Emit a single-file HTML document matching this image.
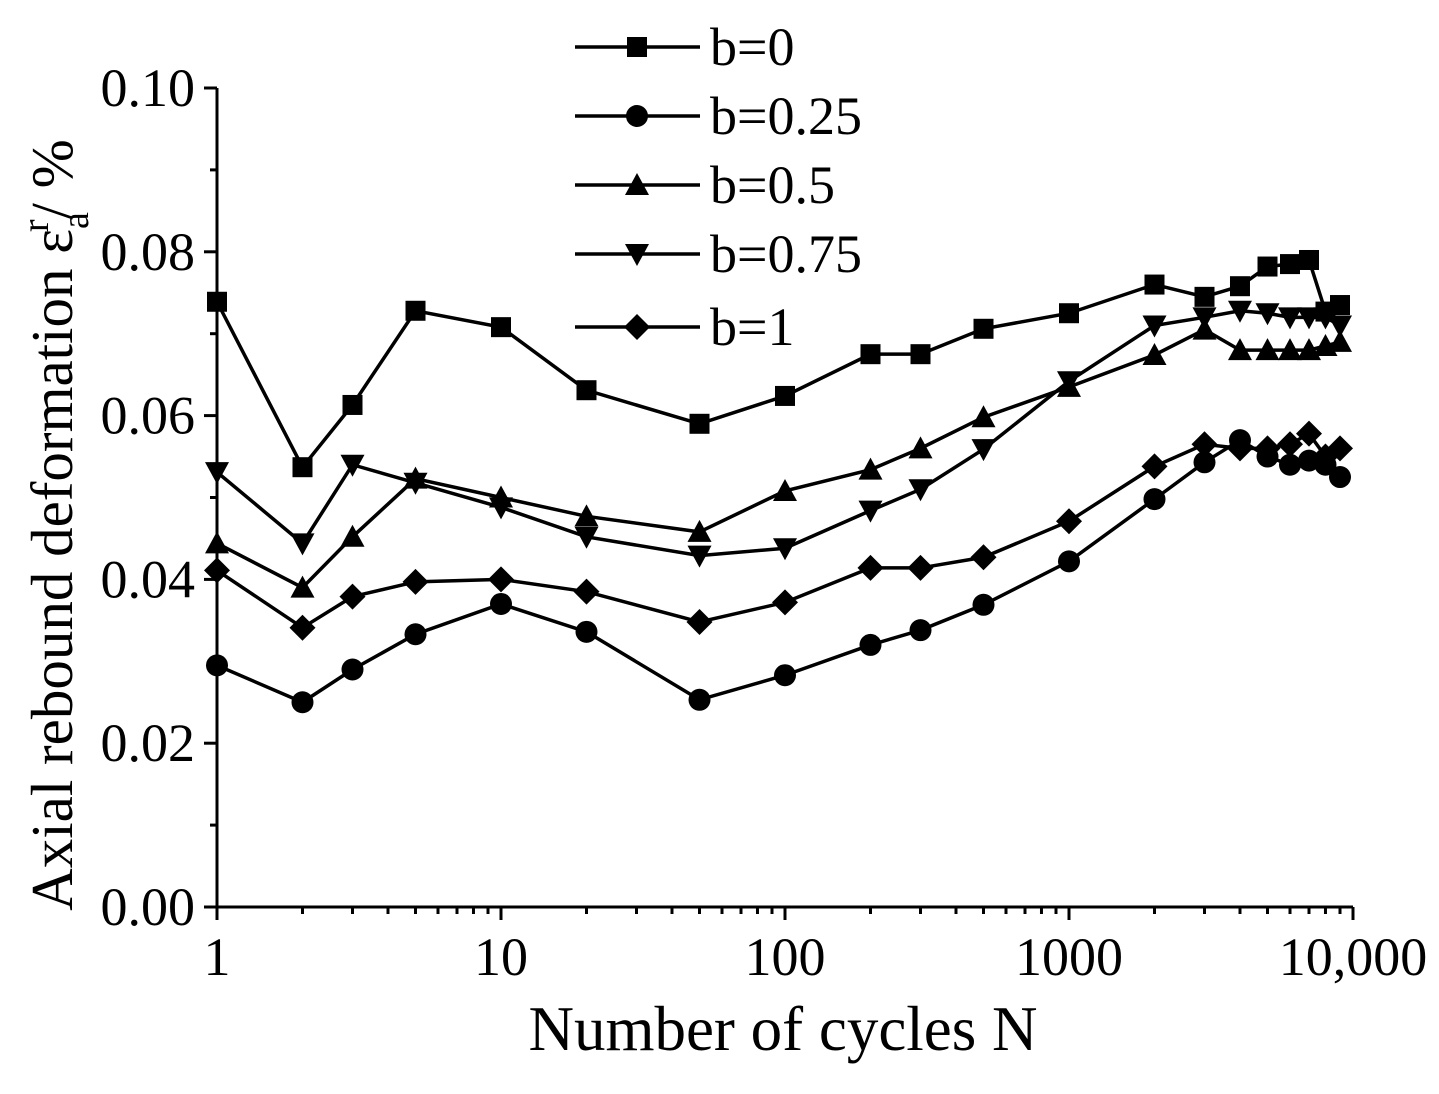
<!DOCTYPE html>
<html><head><meta charset="utf-8"><style>
body{margin:0;background:#fff}
svg text{font-family:"Liberation Serif",serif;fill:#000}
</style></head><body>
<svg id="c" width="1439" height="1089" viewBox="0 0 1439 1089" xmlns="http://www.w3.org/2000/svg"></svg>
<script>
const cycles=[1,2,3,5,10,20,50,100,200,300,500,1000,2000,3000,4000,5000,6000,7000,8000,9000];
const b0=[0.0739,0.0537,0.0613,0.0728,0.0708,0.0631,0.059,0.0624,0.0675,0.0675,0.0706,0.0725,0.076,0.0745,0.0758,0.0782,0.0785,0.079,0.0727,0.0735];
const b025=[0.0295,0.025,0.029,0.0333,0.037,0.0336,0.0253,0.0283,0.032,0.0338,0.0369,0.0422,0.0498,0.0543,0.057,0.055,0.054,0.0545,0.054,0.0525];
const b05=[0.0444,0.039,0.0452,0.0523,0.05,0.0477,0.0458,0.0508,0.0534,0.056,0.0598,0.0635,0.0674,0.0705,0.068,0.068,0.068,0.068,0.0685,0.069];
const b075=[0.0531,0.0444,0.054,0.0518,0.0488,0.0452,0.0429,0.0438,0.0484,0.051,0.0559,0.0642,0.071,0.072,0.0728,0.0725,0.072,0.072,0.072,0.071];
const b1=[0.0411,0.0341,0.0379,0.0397,0.04,0.0385,0.0348,0.0372,0.0414,0.0414,0.0427,0.0471,0.0538,0.0565,0.056,0.056,0.0565,0.0578,0.055,0.056];
const seriesNames=["b=0","b=0.25","b=0.5","b=0.75","b=1"];
const yTicks=[0,0.02,0.04,0.06,0.08,0.10];
const yTickLabels=["0.00","0.02","0.04","0.06","0.08","0.10"];
const xTicks=[1,10,100,1000,10000];
const xTickLabels=["1","10","100","1000","10,000"];

const NS="http://www.w3.org/2000/svg";
const svg=document.getElementById('c');
const X0=217,X1=1353,Y0=907,Y1=88;
const xs=v=>X0+(X1-X0)*Math.log10(v)/4;
const ys=v=>Y0-(Y0-Y1)*v/0.1;
function mk(t,a,p){const e=document.createElementNS(NS,t);for(const k in a)e.setAttribute(k,a[k]);(p||svg).appendChild(e);return e;}

let ax=mk('path',{d:`M${X0},${Y1}V${Y0}H${X1}`,fill:'none',stroke:'#000','stroke-width':3});


yTicks.forEach((v,i)=>{
  const y=ys(v);
  const t=mk('line',{x1:X0-13,x2:X0,y1:y,y2:y,stroke:'#000','stroke-width':3});
  
  
  const l=mk('text',{x:X0-22,y:y+18,'font-size':54,'text-anchor':'end'});l.textContent=yTickLabels[i];
  
  
  if(i<yTicks.length-1){const ym=ys(v+0.01);const m=mk('line',{x1:X0-7,x2:X0,y1:ym,y2:ym,stroke:'#000','stroke-width':3});
  
  }
});
xTicks.forEach((v,i)=>{
  const x=xs(v);
  const t=mk('line',{x1:x,x2:x,y1:Y0,y2:Y0+13,stroke:'#000','stroke-width':3});
  
  
  const l=mk('text',{x:x,y:Y0+68,'font-size':54,'text-anchor':'middle'});l.textContent=xTickLabels[i];
  
  
  if(i<xTicks.length-1){for(let k=2;k<=9;k++){const xm=xs(v*k);const m=mk('line',{x1:xm,x2:xm,y1:Y0,y2:Y0+7,stroke:'#000','stroke-width':3});
  
  }}
});
let xt=mk('text',{x:783,y:1050,'font-size':63,'text-anchor':'middle'});xt.textContent='Number of cycles N';


let yt=mk('text',{transform:'translate(72,525) rotate(-90)','font-size':59,'text-anchor':'middle'});
yt.innerHTML='Axial rebound deformation ε<tspan font-size="38" dy="16">a</tspan><tspan font-size="38" dx="-20" dy="-40">r</tspan><tspan dy="24">/ %</tspan>';



function marker(type,x,y,p){
  const s=10;let e;
  if(type==0)e=mk('rect',{x:x-s,y:y-s,width:2*s,height:2*s},p);
  else if(type==1)e=mk('circle',{cx:x,cy:y,r:s+1},p);
  else if(type==2)e=mk('polygon',{points:`${x},${y-s-2} ${x+s+2},${y+s} ${x-s-2},${y+s}`},p);
  else if(type==3)e=mk('polygon',{points:`${x},${y+s+2} ${x+s+2},${y-s} ${x-s-2},${y-s}`},p);
  else e=mk('polygon',{points:`${x},${y-s-3} ${x+s+3},${y} ${x},${y+s+3} ${x-s-3},${y}`},p);
  e.setAttribute('fill','#000');
  return e;
}
const all=[b0,b025,b05,b075,b1];
all.forEach((arr,si)=>{
  const g=mk('g',{});
  
  
  const d=arr.map((v,i)=>(i?'L':'M')+xs(cycles[i])+','+ys(v)).join('');
  const ln=mk('path',{d:d,fill:'none',stroke:'#000','stroke-width':3.5},g);
  
  
  arr.forEach((v,i)=>{const m=marker(si,xs(cycles[i]),ys(v),g);
    
    });
});
const legY=[47,116,185,254,327];
seriesNames.forEach((n,i)=>{
  const g=mk('g',{});
  
  
  mk('line',{x1:575,x2:700,y1:legY[i],y2:legY[i],stroke:'#000','stroke-width':3.5},g);
  marker(i,637,legY[i],g);
  const t=mk('text',{x:710,y:legY[i]+18,'font-size':54},g);t.textContent=n;
});
</script>
</body></html>
